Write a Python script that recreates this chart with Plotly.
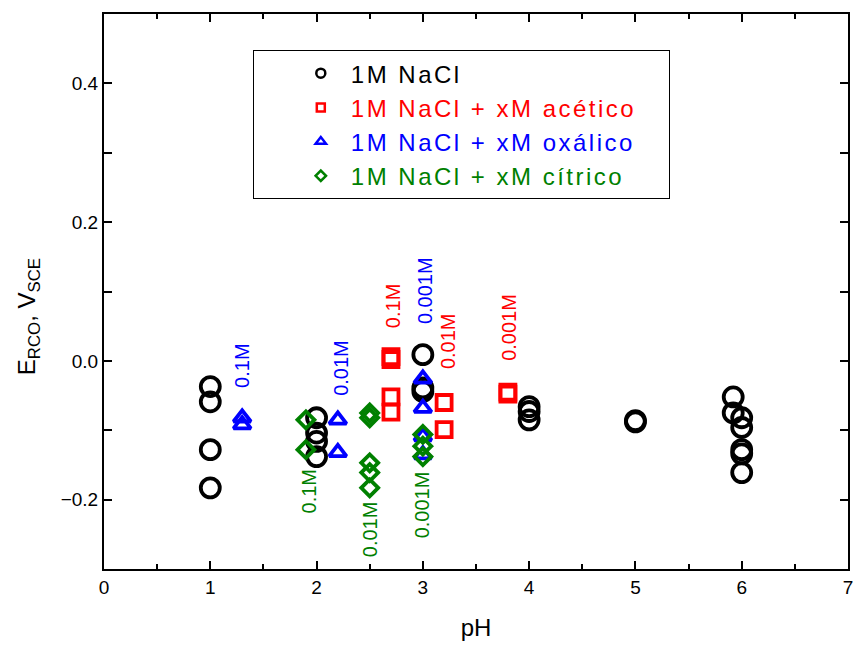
import plotly.graph_objects as go

FONT = "Liberation Sans, Arial, sans-serif"

# 1M NaCl
nacl_x = [1, 1, 1, 1, 2, 2, 2, 2, 3, 3, 3, 4, 4, 4, 5, 5, 5.92, 5.92, 6, 6, 6, 6, 6]
nacl_y = [-0.037, -0.059, -0.128, -0.183, -0.082, -0.104, -0.116, -0.138,
          0.009, -0.039, -0.044, -0.066, -0.073, -0.085, -0.086, -0.088,
          -0.052, -0.075, -0.082, -0.096, -0.128, -0.134, -0.161]
# 1M NaCl + xM acético
acet_x = [2.7, 2.7, 2.7, 2.7, 3.2, 3.2, 3.8, 3.8]
acet_y = [0.006, 0.002, -0.052, -0.074, -0.060, -0.099, -0.045, -0.048]
# 1M NaCl + xM oxálico
oxal_x = [1.3, 1.3, 2.2, 2.2, 3, 3, 3, 3]
oxal_y = [-0.082, -0.092, -0.085, -0.132, -0.026, -0.068, -0.109, -0.135]
# 1M NaCl + xM cítrico
citr_x = [1.9, 1.9, 2.5, 2.5, 2.5, 2.5, 2.5, 3, 3, 3]
citr_y = [-0.085, -0.128, -0.075, -0.082, -0.147, -0.161, -0.183, -0.106, -0.123, -0.138]

# concentration labels
lab_text = ["0.1M", "0.01M", "0.001M", "0.1M", "0.01M", "0.001M", "0.1M", "0.01M", "0.001M"]
lab_x = [1.3, 2.23, 3.02, 2.72, 3.23, 3.81, 1.93, 2.51, 3.0]
lab_y = [-0.007, -0.010, 0.102, 0.079, 0.029, 0.049, -0.188, -0.243, -0.207]
lab_color = ["blue", "blue", "blue", "red", "red", "red", "green", "green", "green"]

series_names = ["1M NaCl", "1M NaCl + xM acético", "1M NaCl + xM oxálico", "1M NaCl + xM cítrico"]
series_colors = ["black", "red", "blue", "green"]
series_symbols = ["circle-open", "square-open", "triangle-up-open", "diamond-open"]
series_sizes = [19, 15, 15, 13]
series_x = [nacl_x, acet_x, oxal_x, citr_x]
series_y = [nacl_y, acet_y, oxal_y, citr_y]
legend_sizes = [9, 8, 9, 8]

fig = go.Figure()
for xs, ys, c, s, sz in zip(series_x, series_y, series_colors, series_symbols, series_sizes):
    fig.add_trace(go.Scatter(
        x=xs, y=ys, mode="markers", showlegend=False,
        marker=dict(symbol=s, size=sz, color=c, line=dict(color=c, width=3.8)),
    ))
# legend-only entries (small markers)
pad = "&nbsp;" * 4
for i, (n, c, s, sz) in enumerate(zip(series_names, series_colors, series_symbols, legend_sizes)):
    fig.add_trace(go.Scatter(
        x=[None], y=[None], mode="markers",
        name=f"<span style='color:{c};letter-spacing:2.5px'>{n}</span>" + (pad if i == 1 else ""),
        marker=dict(symbol=s, size=sz, color=c, line=dict(color=c, width=2.5)),
    ))

for t, x, y, c in zip(lab_text, lab_x, lab_y, lab_color):
    fig.add_annotation(x=x, y=y, text=t, textangle=-90, showarrow=False,
                       font=dict(family=FONT, size=20, color=c))

# y-axis title as annotation (positioned like the reference)
fig.add_annotation(xref="paper", yref="paper", x=-0.102, y=0.454,
                   xanchor="center", yanchor="middle", textangle=-90, showarrow=False,
                   text="E<sub>RCO</sub>, V<sub>SCE</sub>",
                   font=dict(family=FONT, size=24, color="black"))

axis_common = dict(
    showline=True, linecolor="black", linewidth=2, mirror="ticks",
    ticks="inside", ticklen=8, tickwidth=2, tickcolor="black",
    showgrid=False, zeroline=False,
    tickfont=dict(family=FONT, size=19, color="black"),
)

fig.update_layout(
    width=861, height=648,
    margin=dict(l=104, r=8, t=14, b=79),
    paper_bgcolor="white", plot_bgcolor="white",
    font=dict(family=FONT, color="black"),
    xaxis=dict(range=[0, 7], dtick=1, tick0=0,
               minor=dict(dtick=0.5, ticks="inside", ticklen=5, tickwidth=2, tickcolor="black"),
               title=dict(text="pH", font=dict(family=FONT, size=24), standoff=22),
               **axis_common),
    yaxis=dict(range=[-0.3, 0.5], dtick=0.2, tick0=0, tickformat=".1f",
               minor=dict(dtick=0.1, ticks="inside", ticklen=8, tickwidth=2, tickcolor="black"),
               **axis_common),
    legend=dict(x=0.2, y=0.935, xanchor="left", yanchor="top",
                bordercolor="black", borderwidth=1, bgcolor="white",
                font=dict(family=FONT, size=24), indentation=37,
                tracegroupgap=0, itemwidth=50),
)

fig.write_html("out.html")
